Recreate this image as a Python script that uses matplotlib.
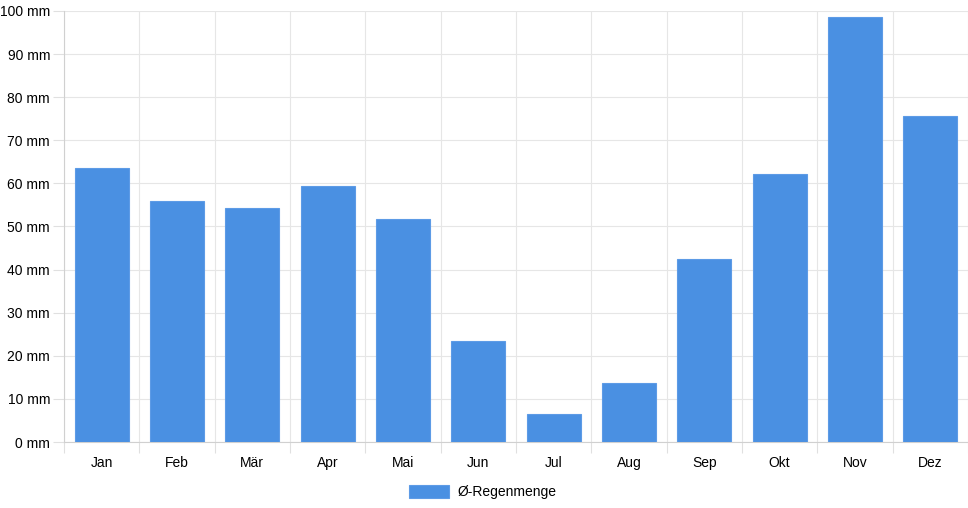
import matplotlib.pyplot as plt
import numpy as np

# Durchschnittliche Regenmenge pro Monat
monate = ['Jan', 'Feb', 'Mär', 'Apr', 'Mai', 'Jun', 'Jul', 'Aug', 'Sep', 'Okt', 'Nov', 'Dez']
regen = [63.6, 55.9, 54.3, 59.3, 51.7, 23.5, 6.4, 13.8, 42.4, 62.1, 98.5, 75.6]
y_ticks = [0, 10, 20, 30, 40, 50, 60, 70, 80, 90, 100]
y_labels = [f'{t} mm' for t in y_ticks]

plt.rcParams['font.family'] = ['Liberation Sans', 'DejaVu Sans']

fig = plt.figure(figsize=(9.68, 5.08), dpi=100)
ax = fig.add_axes([64 / 968, 66 / 508, 904 / 968, 431 / 508])

x = np.arange(len(monate))
ax.bar(x, regen, width=0.72, color='#4a90e2', edgecolor='#5d9be6', linewidth=0.8,
       label='Ø-Regenmenge', zorder=3)

ax.set_xlim(-0.5, len(monate) - 0.5)
ax.set_ylim(0, 100)

# Gitter an den Kategoriegrenzen
ax.set_xticks(np.arange(-0.5, len(monate), 1.0))
ax.set_xticklabels([])
ax.set_xticks(x, minor=True)
ax.set_xticklabels(monate, minor=True, fontsize=10)
ax.tick_params(axis='x', which='major', length=8, color='#e0e0e0', width=0.8)
ax.tick_params(axis='x', which='minor', length=0, pad=10)
ax.xaxis.grid(True, which='major', color='#e6e6e6', linewidth=0.8)

ax.set_yticks(y_ticks)
ax.set_yticklabels(y_labels, fontsize=10)
ax.tick_params(axis='y', length=8, color='#e0e0e0', width=0.8, pad=2)
ax.yaxis.grid(True, color='#e6e6e6', linewidth=0.8)
ax.set_axisbelow(True)

for side in ['top', 'right']:
    ax.spines[side].set_visible(False)
ax.spines['left'].set_color('#d0d0d0')
ax.spines['bottom'].set_color('#d0d0d0')

ax.legend(loc='upper center', bbox_to_anchor=(0.463, -0.07), frameon=False,
          fontsize=10, handlelength=2.9, handleheight=1.1, handletextpad=0.6)

fig.savefig('out.png', dpi=100)
